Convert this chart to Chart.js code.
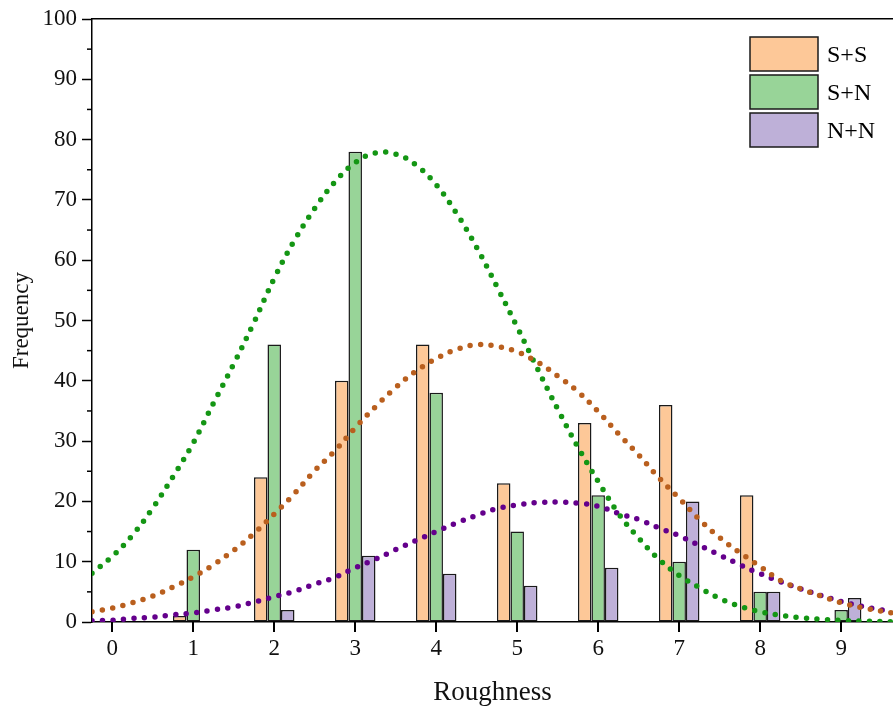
<!DOCTYPE html>
<html>
<head>
<meta charset="utf-8">
<script src="https://cdn.jsdelivr.net/npm/chart.js@4.4.1/dist/chart.umd.min.js"></script>
<style>
  body { margin: 0; background: #fff; }
  #wrap { width: 893px; height: 711px; position: relative; }
</style>
</head>
<body>
<div id="wrap"><canvas id="myChart"></canvas></div>
<script>
// histogram values
var categories = [0, 1, 2, 3, 4, 5, 6, 7, 8, 9];
var ssValues = [0, 1, 24, 40, 46, 23, 33, 36, 21, 0];
var snValues = [0, 12, 46, 78, 38, 15, 21, 10, 5, 2];
var nnValues = [0, 0, 2, 11, 8, 6, 9, 20, 5, 4];
var yTicks = [0, 10, 20, 30, 40, 50, 60, 70, 80, 90, 100];

// fitted curves
var curveX = [-0.25, 0, 0.25, 0.5, 0.75, 1, 1.25, 1.5, 1.75, 2, 2.25, 2.5, 2.75, 3, 3.25, 3.5, 3.75, 4, 4.25, 4.5,
  4.75, 5, 5.25, 5.5, 5.75, 6, 6.25, 6.5, 6.75, 7, 7.25, 7.5, 7.75, 8, 8.25, 8.5, 8.75, 9, 9.25, 9.5, 9.625];
var ssCurve = [1.7, 2.3, 3.2, 4.3, 5.8, 7.5, 9.5, 11.9, 14.7, 17.9, 21.3, 25.1, 28.4, 32.2, 35.7, 38.9, 41.6, 43.7, 45.2, 46.0,
  45.7, 44.8, 43.1, 40.8, 38.2, 34.9, 31.2, 27.7, 23.9, 20.5, 17.0, 14.0, 11.5, 9.2, 6.9, 5.5, 4.3, 3.2, 2.4, 1.8, 1.5];
var snCurve = [8.1, 10.9, 14.4, 18.9, 24.1, 29.7, 36.3, 42.8, 49.7, 57.0, 63.3, 68.6, 73.0, 76.2, 77.8, 77.6, 75.8, 72.5, 67.8, 62.1,
  55.6, 48.9, 42.0, 35.3, 29.0, 23.3, 18.0, 13.9, 10.4, 7.7, 5.7, 3.9, 2.6, 1.7, 1.1, 0.7, 0.45, 0.25, 0.15, 0.08, 0.05];
var nnCurve = [0.2, 0.3, 0.6, 0.8, 1.2, 1.5, 2.0, 2.5, 3.3, 4.2, 5.1, 6.3, 7.4, 9.0, 10.4, 12.0, 13.5, 15.0, 16.4, 17.7,
  18.8, 19.4, 19.8, 19.9, 19.7, 19.2, 18.0, 17.0, 15.6, 14.3, 12.7, 11.1, 9.5, 8.0, 6.7, 5.5, 4.4, 3.4, 2.6, 2.0, 1.7];

var X_MIN = -0.25, X_MAX = 9.64;
var serif = "'Liberation Serif', 'Times New Roman', serif";

function barData(vals) {
    return categories.map(function (c, i) {
        return { x: c, y: vals[i] === 0 ? null : vals[i] };
    });
}
function lineData(vals) {
    return curveX.map(function (x, i) {
        return { x: x, y: vals[i] };
    });
}
function barSet(label, vals, color) {
    return {
        type: 'bar', label: label, data: barData(vals),
        backgroundColor: color, borderColor: '#1a1a1a', borderWidth: 1.5,
        borderSkipped: false, categoryPercentage: 0.5, barPercentage: 1.0, order: 1
    };
}
function curveSet(vals, color) {
    return {
        type: 'line', label: '', data: lineData(vals),
        borderColor: color, borderWidth: 5.5, borderDash: [0, 10.5], borderCapStyle: 'round',
        pointRadius: 0, tension: 0.4, fill: false, order: 0
    };
}

// tick marks (y minor, x major) + legend inside the plot
var extras = {
    id: 'extras',
    afterDraw: function (chart) {
        var ctx = chart.ctx;
        var ca = chart.chartArea;
        var yScale = chart.scales.y;
        var xScale = chart.scales.x;
        ctx.save();
        ctx.setLineDash([]);
        ctx.strokeStyle = '#000';
        ctx.lineWidth = 1.5;
        for (var v = 5; v < 100; v += 10) {
            var py = yScale.getPixelForValue(v);
            ctx.beginPath();
            ctx.moveTo(ca.left - 5, py);
            ctx.lineTo(ca.left, py);
            ctx.stroke();
        }
        ctx.lineWidth = 2;
        for (var i = 0; i < categories.length; i++) {
            var px = Math.round(xScale.getPixelForValue(categories[i]));
            ctx.beginPath();
            ctx.moveTo(px, Math.round(ca.bottom));
            ctx.lineTo(px, Math.round(ca.bottom) + 10);
            ctx.stroke();
        }
        var bars = chart.data.datasets.filter(function (d) { return d.type === 'bar'; });
        var bx = 750, by = 37, bw = 68, bh = 34, gap = 4;
        ctx.lineWidth = 1.5;
        ctx.font = "24px " + serif;
        ctx.textBaseline = 'middle';
        bars.forEach(function (d, k) {
            var top = by + k * (bh + gap);
            ctx.fillStyle = d.backgroundColor;
            ctx.fillRect(bx, top, bw, bh);
            ctx.strokeStyle = '#1a1a1a';
            ctx.strokeRect(bx, top, bw, bh);
            ctx.fillStyle = '#000';
            ctx.fillText(d.label, bx + bw + 9, top + bh / 2 + 2);
        });
        ctx.restore();
    }
};

var ctx = document.getElementById('myChart').getContext('2d');
var chart = new Chart(ctx, {
    data: {
        datasets: [
            barSet('S+S', ssValues, 'rgb(253, 200, 152)'),
            barSet('S+N', snValues, 'rgb(152, 212, 152)'),
            barSet('N+N', nnValues, 'rgb(190, 176, 216)'),
            curveSet(ssCurve, 'rgb(185, 95, 30)'),
            curveSet(snCurve, 'rgb(20, 150, 20)'),
            curveSet(nnCurve, 'rgb(100, 0, 140)')
        ]
    },
    options: {
        responsive: true,
        maintainAspectRatio: false,
        animation: false,
        layout: { padding: 0 },
        plugins: { legend: { display: false }, tooltip: { enabled: false } },
        scales: {
            x: {
                type: 'linear', min: X_MIN, max: X_MAX, offset: false,
                afterBuildTicks: function (scale) {
                    scale.ticks = categories.map(function (c) { return { value: c }; });
                },
                afterFit: function (scale) { scale.height = 89; },
                grid: { offset: false, drawOnChartArea: false, drawTicks: false, tickLength: 9 },
                border: { color: '#000', width: 1.5 },
                ticks: { color: '#111', font: { family: serif, size: 23 }, padding: 13, maxRotation: 0 },
                title: { display: true, text: 'Roughness', color: '#111', font: { family: serif, size: 27 }, padding: { top: 0, bottom: 2 } }
            },
            x2: {
                type: 'linear', position: 'top', min: X_MIN, max: X_MAX, offset: false,
                afterFit: function (scale) { scale.height = 19; },
                grid: { display: false },
                border: { display: true, color: '#000', width: 1.5 },
                ticks: { display: false }
            },
            y: {
                min: 0, max: 100,
                afterBuildTicks: function (scale) {
                    scale.ticks = yTicks.map(function (t) { return { value: t }; });
                },
                afterFit: function (scale) { scale.width = 92; },
                grid: { drawOnChartArea: false, tickLength: 10, tickColor: '#000', tickWidth: 1.5 },
                border: { color: '#000', width: 1.5 },
                ticks: { color: '#111', font: { family: serif, size: 23 }, padding: 5 },
                title: { display: true, text: 'Frequency', color: '#111', font: { family: serif, size: 23 }, padding: { top: 8, bottom: 0 } }
            }
        }
    },
    plugins: [extras]
});
</script>
</body>
</html>
